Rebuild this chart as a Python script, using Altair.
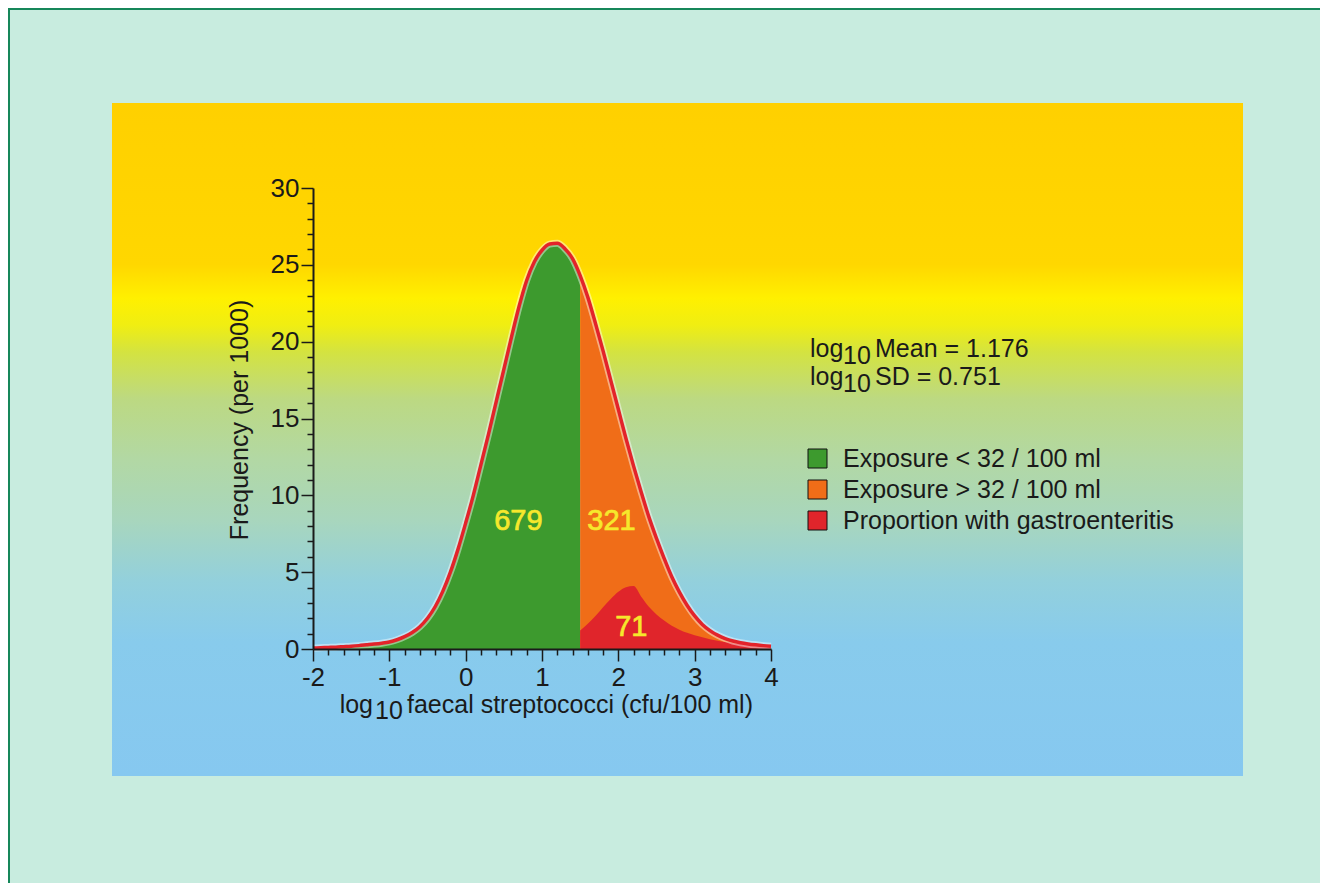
import altair as alt
import pandas as pd

FONT = "Liberation Sans"

# ---- data ----
x_vals = [-2.0, -1.9, -1.8, -1.7, -1.6, -1.5, -1.4, -1.3, -1.2, -1.1,
          -1.0, -0.9, -0.8, -0.7, -0.6, -0.5, -0.4, -0.3, -0.2, -0.1,
          0.0, 0.1, 0.2, 0.3, 0.4, 0.5, 0.6, 0.7, 0.8, 0.9,
          1.0, 1.1, 1.2, 1.3, 1.4, 1.5, 1.6, 1.7, 1.8, 1.9,
          2.0, 2.1, 2.2, 2.3, 2.4, 2.5, 2.6, 2.7, 2.8, 2.9,
          3.0, 3.1, 3.2, 3.3, 3.4, 3.5, 3.6, 3.7, 3.8, 3.9, 4.0]
freq = [0.06, 0.08, 0.10, 0.12, 0.15, 0.18, 0.22, 0.27, 0.32, 0.38,
        0.46, 0.60, 0.80, 1.07, 1.45, 2.00, 2.75, 3.75, 5.00, 6.50,
        8.20, 10.0, 12.0, 14.0, 16.1, 18.2, 20.3, 22.3, 24.0, 25.2,
        25.95, 26.35, 26.4, 26.05, 25.4, 24.3, 22.9, 21.2, 19.4, 17.5,
        15.6, 13.7, 11.9, 10.2, 8.6, 7.2, 5.9, 4.7, 3.7, 2.85,
        2.15, 1.6, 1.2, 0.9, 0.68, 0.52, 0.41, 0.33, 0.27, 0.22, 0.18]

gastro_x = [1.5, 1.6, 1.7, 1.8, 1.9, 2.0, 2.1, 2.2, 2.3, 2.4, 2.5, 2.6, 2.7,
            2.8, 2.9, 3.0, 3.1, 3.2, 3.3, 3.4, 3.5, 3.6, 3.7, 3.8, 3.9, 4.0]
gastro_freq = [1.2, 1.65, 2.15, 2.72, 3.25, 3.72, 4.02, 4.1, 3.4, 2.75, 2.25, 1.85, 1.52,
               1.26, 1.06, 0.9, 0.76, 0.64, 0.54, 0.45, 0.38, 0.32, 0.27, 0.23, 0.19, 0.16]

cutoff = 1.5

legend_labels = ["Exposure < 32 / 100 ml", "Exposure > 32 / 100 ml",
                 "Proportion with gastroenteritis"]
legend_colors = ["#3d9a2e", "#f06d18", "#e0252b"]

count_labels = ["679", "321", "71"]
count_x = [0.69, 1.91, 2.17]
count_y = [8.35, 8.35, 1.4]

x_ticks = [-2.0, -1.8, -1.6, -1.4, -1.2, -1.0, -0.8, -0.6, -0.4, -0.2,
           0.0, 0.2, 0.4, 0.6, 0.8, 1.0, 1.2, 1.4, 1.6, 1.8,
           2.0, 2.2, 2.4, 2.6, 2.8, 3.0, 3.2, 3.4, 3.6, 3.8, 4.0]
y_ticks = list(range(0, 31))

# ---- tables ----
curve = pd.DataFrame({"x": x_vals, "freq": freq})
green = curve[curve["x"] <= cutoff].assign(series=legend_labels[0])
orange = curve[curve["x"] >= cutoff].assign(series=legend_labels[1])
red = pd.DataFrame({"x": gastro_x, "freq": gastro_freq, "series": legend_labels[2]})
counts = pd.DataFrame({"label": count_labels, "x": count_x, "y": count_y})
one = pd.DataFrame({"a": [0]})

xs = alt.Scale(domain=[-2, 4], nice=False, zero=False)
ys = alt.Scale(domain=[0, 30], nice=False)

axis_common = dict(
    title=None, grid=False, zindex=1,
    domainColor="#1a1a1a", domainWidth=2,
    tickColor="#1a1a1a", tickWidth=1.5,
    labelFont=FONT, labelFontSize=26, labelColor="#1a1a1a",
    labelOverlap=False, labelFlush=False,
)
xaxis = alt.Axis(
    values=x_ticks,
    labelExpr="datum.value % 1 === 0 ? toString(datum.value) : ''",
    tickSize={"condition": {"test": "datum.value % 1 === 0", "value": 12}, "value": 6},
    labelPadding=3,
    **axis_common,
)
yaxis = alt.Axis(
    values=y_ticks,
    labelExpr="datum.value % 5 === 0 ? toString(datum.value) : ''",
    tickSize={"condition": {"test": "datum.value % 5 === 0", "value": 12}, "value": 6},
    labelPadding=2,
    **axis_common,
)

X = alt.X("x:Q", scale=xs, axis=xaxis)
Y = alt.Y("freq:Q", scale=ys, axis=yaxis, stack=None)

color = alt.Color(
    "series:N",
    scale=alt.Scale(domain=legend_labels, range=legend_colors),
    legend=alt.Legend(
        title=None, orient="none", legendX=492, legendY=258,
        symbolType="square", symbolSize=361, symbolStrokeColor="#111111",
        symbolStrokeWidth=1, symbolOpacity=1,
        labelFont=FONT, labelFontSize=25, labelColor="#1a1a1a",
        labelOffset=13, rowPadding=5, padding=0, labelLimit=0,
    ),
)

# ---- background panel ----
gradient = alt.Gradient(
    gradient="linear",
    stops=[
        alt.GradientStop(color="#ffd000", offset=0.0),
        alt.GradientStop(color="#ffd700", offset=0.24),
        alt.GradientStop(color="#fff000", offset=0.29),
        alt.GradientStop(color="#f0ee12", offset=0.33),
        alt.GradientStop(color="#d4e340", offset=0.37),
        alt.GradientStop(color="#bcd982", offset=0.44),
        alt.GradientStop(color="#b2d8a4", offset=0.53),
        alt.GradientStop(color="#a8d6bd", offset=0.62),
        alt.GradientStop(color="#93d0dc", offset=0.71),
        alt.GradientStop(color="#88cbec", offset=0.80),
        alt.GradientStop(color="#86c8f0", offset=1.0),
    ],
    x1=0, x2=0, y1=0, y2=1,
)
panel = alt.Chart(one).mark_rect(fill=gradient).encode(
    x=alt.value(-201), x2=alt.value(930), y=alt.value(-85), y2=alt.value(588)
)
border_left = alt.Chart(one).mark_rule(color="#16875a", strokeWidth=2).encode(
    x=alt.value(-304), y=alt.value(-180), y2=alt.value(720)
)
border_top = alt.Chart(one).mark_rule(color="#16875a", strokeWidth=2).encode(
    x=alt.value(-305), x2=alt.value(1020), y=alt.value(-179)
)

# ---- data marks ----
area_green = alt.Chart(green).mark_area(interpolate="monotone", opacity=1).encode(x=X, y=Y, color=color)
area_orange = alt.Chart(orange).mark_area(interpolate="monotone", opacity=1).encode(x=X, y=Y, color=color)
area_red = alt.Chart(red).mark_area(interpolate="monotone", opacity=1).encode(x=X, y=Y, color=color)
halo = alt.Chart(curve).mark_line(interpolate="monotone", color="white", strokeWidth=7, opacity=0.45).encode(x=X, y=Y)
outline = alt.Chart(curve).mark_line(interpolate="monotone", color="#e3232a", strokeWidth=3.5).encode(x=X, y=Y)

count_text = alt.Chart(counts).mark_text(
    font=FONT, fontSize=29, color="#f6e82c", stroke="#f6e82c", strokeWidth=0.7,
    align="center", baseline="middle"
).encode(x=alt.X("x:Q", scale=xs, axis=xaxis), y=alt.Y("y:Q", scale=ys, axis=yaxis), text="label:N")


def txt(s, x, y, size=25, angle=None, align="left"):
    kw = dict(text=s, align=align, baseline="alphabetic", fontSize=size, font=FONT, color="#1a1a1a")
    if angle is not None:
        kw["angle"] = angle
    return alt.Chart(one).mark_text(**kw).encode(x=alt.value(x), y=alt.value(y))


annotations = [
    txt("Frequency (per 1000)", -65, 232, size=25, angle=270, align="center"),
    txt("log", 60, 525, align="right"),
    txt("10", 62, 531),
    txt("faecal streptococci (cfu/100 ml)", 94, 525),
    txt("log", 497, 169),
    txt("10", 530, 176),
    txt("Mean = 1.176", 562, 169),
    txt("log", 497, 197),
    txt("10", 530, 204),
    txt("SD = 0.751", 562, 197),
]

chart = alt.layer(
    panel, border_left, border_top,
    area_green, area_orange, area_red, halo, outline,
    count_text, *annotations,
).properties(
    width=458, height=461,
    padding={"left": 305, "top": 180, "right": 549, "bottom": 234},
    autosize=alt.AutoSizeParams(type="none"),
    background="#c8ecdf",
).configure_view(stroke=None)

chart.save("out.html", embed_options={"renderer": "svg", "actions": False})
